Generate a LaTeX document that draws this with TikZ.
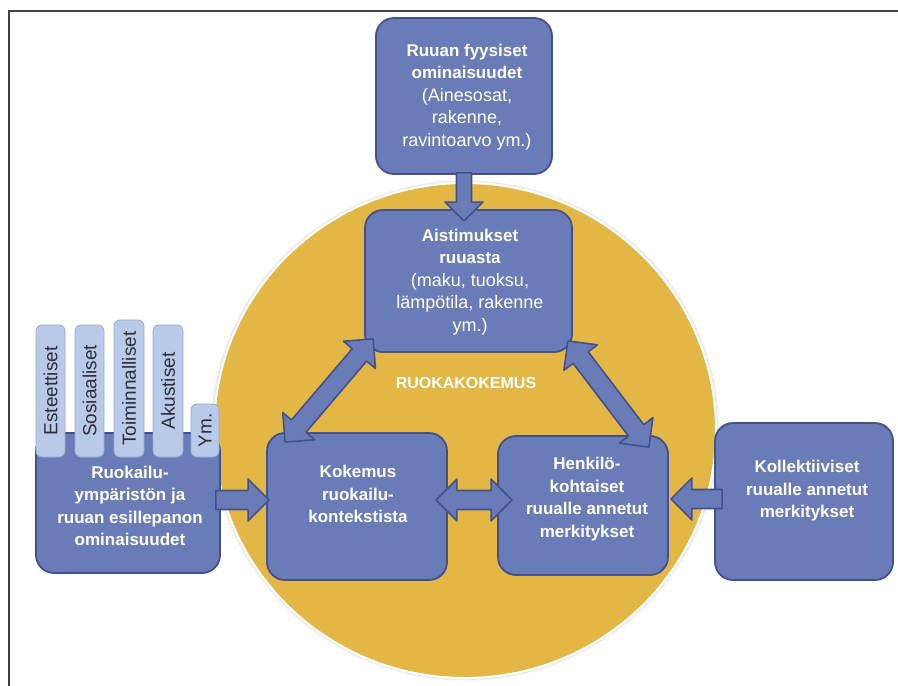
\documentclass[tikz,border=0pt]{standalone}
\usepackage{fontspec}
\setmainfont{Liberation Sans}
\usepackage{tikz}
\usetikzlibrary{calc}

\definecolor{boksvari}{RGB}{106,124,183}
\definecolor{boksraja}{RGB}{68,80,138}
\definecolor{keltainen}{RGB}{227,183,69}
\definecolor{lehtivari}{RGB}{185,202,232}
\definecolor{lehtiraja}{RGB}{150,168,208}
\definecolor{lehtiteksti}{RGB}{45,45,62}

\tikzset{
  boks/.style={draw=boksraja, fill=boksvari, line width=1.8pt, rounded corners=18pt, inner sep=0pt},
  teksti/.style={text=white, align=center, font=\bfseries\fontsize{17}{22.5}\selectfont},
  lehti/.style={draw=lehtiraja, fill=lehtivari, line width=0.8pt, rounded corners=6pt, inner sep=0pt,
    rotate=90, text=lehtiteksti, font=\fontsize{19}{22}\selectfont},
  nuolityyli/.style={draw=boksraja, fill=boksvari, line width=1.6pt, line join=round}
}

\newcommand{\ohut}[1]{{\fontsize{18}{22.5}\selectfont\mdseries #1}}
\def\varsi{9.5}
\def\leveys{21}
\def\karki{21}
% single block arrow from #1 to #2
\newcommand{\nuoli}[2]{
  \path (#1); \pgfgetlastxy{\ax}{\ay}
  \path (#2); \pgfgetlastxy{\bx}{\by}
  \pgfmathsetmacro{\kulma}{atan2(\by-\ay,\bx-\ax)}
  \pgfmathsetmacro{\pituus}{veclen(\bx-\ax,\by-\ay)}
  \begin{scope}[shift={(\ax,\ay)}, rotate=\kulma]
    \draw[nuolityyli] (0,-\varsi) -- (\pituus-\karki,-\varsi) -- (\pituus-\karki,-\leveys) -- (\pituus,0)
      -- (\pituus-\karki,\leveys) -- (\pituus-\karki,\varsi) -- (0,\varsi) -- cycle;
  \end{scope}
}
% double block arrow between #1 and #2
\newcommand{\kaksinuoli}[2]{
  \path (#1); \pgfgetlastxy{\ax}{\ay}
  \path (#2); \pgfgetlastxy{\bx}{\by}
  \pgfmathsetmacro{\kulma}{atan2(\by-\ay,\bx-\ax)}
  \pgfmathsetmacro{\pituus}{veclen(\bx-\ax,\by-\ay)}
  \begin{scope}[shift={(\ax,\ay)}, rotate=\kulma]
    \draw[nuolityyli] (\karki,-\varsi) -- (\pituus-\karki,-\varsi) -- (\pituus-\karki,-\leveys) -- (\pituus,0)
      -- (\pituus-\karki,\leveys) -- (\pituus-\karki,\varsi) -- (\karki,\varsi) -- (\karki,\leveys)
      -- (0,0) -- (\karki,-\leveys) -- cycle;
  \end{scope}
}

\begin{document}
\begin{tikzpicture}[x=1pt, y=-1pt]
        \useasboundingbox (0,0) rectangle (898,686);

        % frame
        \draw[line width=2pt, black!75] (8.5,700) -- (8.5,10.5) -- (910,10.5);

        % yellow circle
        \fill[black!8] (465,430.5) ellipse (254 and 250);
        \draw[white, line width=2pt, fill=keltainen] (465,430.5) ellipse (251 and 247.5);
        \node[font=\bfseries\fontsize{16}{19}\selectfont, text=white] (ruokakokemus) at (466,383) {RUOKAKOKEMUS};

        % left box and tabs
        \node[boks, minimum width=184, minimum height=140] (ymparisto) at (128,503) {};
        \node[lehti, minimum width=132, minimum height=29] (esteettiset) at (50.5,391) {Esteettiset};
        \node[lehti, minimum width=132, minimum height=29] (sosiaaliset) at (89.5,391) {Sosiaaliset};
        \node[lehti, minimum width=137, minimum height=30] (toiminnalliset) at (129,388.5) {Toiminnalliset};
        \node[lehti, minimum width=132, minimum height=30] (akustiset) at (168,391) {Akustiset};
        \node[lehti, minimum width=53, minimum height=28] (ym) at (205,430.5) {Ym.};
        \node[teksti] (ymparisto-t) at ([xshift=2pt,yshift=-3pt]ymparisto.center)
            {Ruokailu-\\ympäristön ja\\ruuan esillepanon\\ominaisuudet};

        % top box
        \node[boks, minimum width=176, minimum height=156] (fysiset) at (464,96) {};
        \node[teksti] (fysiset-t) at ([xshift=3pt,yshift=-1pt]fysiset.center)
            {Ruuan fyysiset\\ominaisuudet\\\ohut{(Ainesosat,}\\\ohut{rakenne,}\\\ohut{ravintoarvo ym.)}};

        % sensations
        \node[boks, minimum width=207, minimum height=142] (aisti) at (468.5,281) {};
        \node[teksti] (aisti-t) at ([xshift=1.5pt,yshift=-1pt]aisti.center)
            {Aistimukset\\ruuasta\\\ohut{(maku, tuoksu,}\\\ohut{lämpötila, rakenne}\\\ohut{ym.)}};

        % bottom row
        \node[boks, minimum width=180, minimum height=147] (kokemus) at (357,506.5) {};
        \node[teksti] (kokemus-t) at ([xshift=1pt,yshift=12.5pt]kokemus.center)
            {Kokemus\\ruokailu-\\kontekstista};

        \node[boks, minimum width=170, minimum height=139] (henkilo) at (583,505.5) {};
        \node[teksti] (henkilo-t) at ([xshift=4pt,yshift=6.5pt]henkilo.center)
            {Henkilö-\\kohtaiset\\ruualle annetut\\merkitykset};

        \node[boks, minimum width=178, minimum height=157] (kollekt) at (804,501.5) {};
        \node[teksti] (kollekt-t) at ([xshift=3pt,yshift=10.5pt]kollekt.center)
            {Kollektiiviset\\ruualle annetut\\merkitykset};

        % arrows
        \def\varsi{7.5} \def\leveys{19} \def\karki{19}
        \nuoli{$(fysiset.south)+(0,-2)$}{$(fysiset.south |- aisti.north)+(0,12)$}
        \def\varsi{9.5} \def\leveys{21} \def\karki{21}
        \nuoli{$(ymparisto.east)+(-5,-3)$}{$(kokemus.west)+(3,-6.5)$}
        \nuoli{$(kollekt.west)+(8,-2.5)$}{$(henkilo.east)+(2,-6.5)$}
        \kaksinuoli{$(kokemus.east)+(-12,-6.5)$}{$(henkilo.west)+(15,-5.5)$}
        \kaksinuoli{$(kokemus.north west)+(19,10)$}{$(aisti.south west)+(9,-14)$}
        \kaksinuoli{$(aisti.south east)+(-5,-12)$}{$(henkilo.north east)+(-20,12)$}

\end{tikzpicture}
\end{document}
